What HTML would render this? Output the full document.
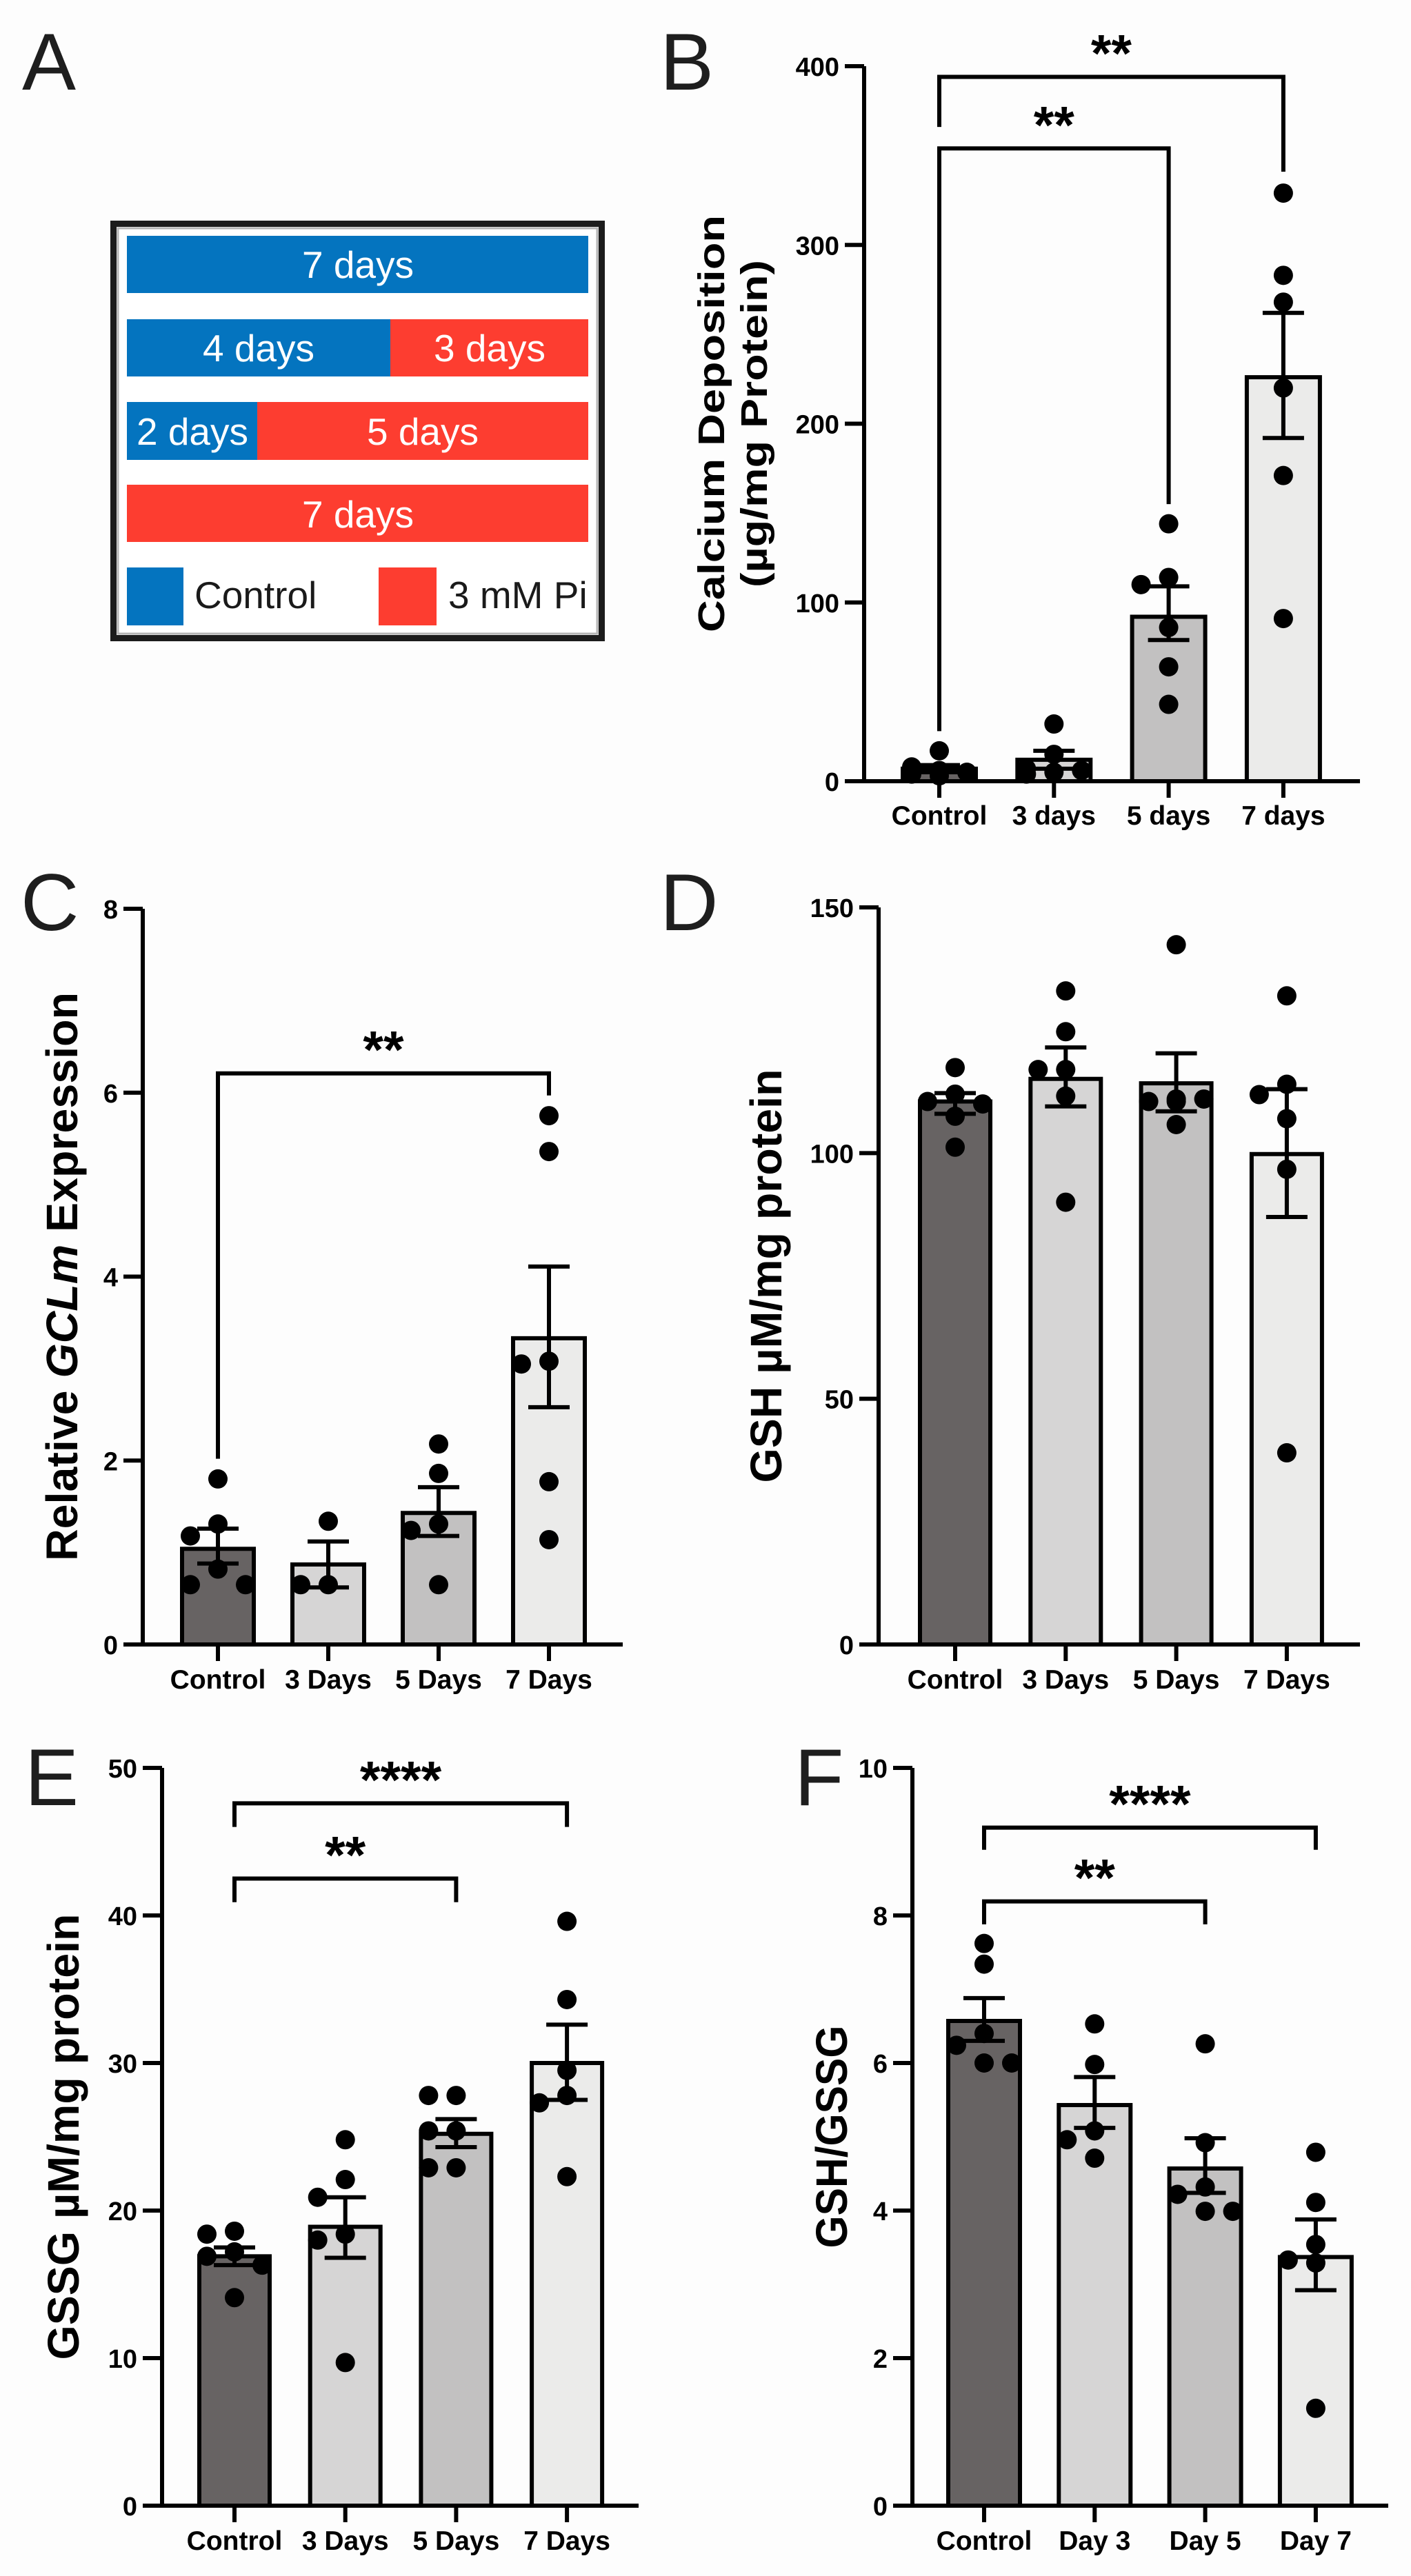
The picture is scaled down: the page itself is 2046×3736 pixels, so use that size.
<!DOCTYPE html>
<html><head><meta charset="utf-8"><style>
html,body{margin:0;padding:0;background:#fdfdfd;}
svg{display:block;font-family:"Liberation Sans",Arial,sans-serif;}
</style></head><body>
<svg id="chart" width="2046" height="3736" viewBox="0 0 2046 3736" xmlns="http://www.w3.org/2000/svg">
<rect x="0" y="0" width="2046" height="3736" fill="#fdfdfd"/>
<g>
  <rect x="164.5" y="324.5" width="708" height="601" fill="#fff" stroke="#1c1c1c" stroke-width="9"/>
  <rect x="171" y="331" width="695" height="588" fill="none" stroke="#b5b5b5" stroke-width="3"/>
  <rect x="184" y="342" width="669" height="83" fill="#0474bf"/>
  <text x="519" y="403" font-size="55" fill="#fff" text-anchor="middle">7 days</text>
  <rect x="184" y="463" width="382" height="83" fill="#0474bf"/>
  <rect x="566" y="463" width="287" height="83" fill="#fd3d30"/>
  <text x="375" y="524" font-size="55" fill="#fff" text-anchor="middle">4 days</text>
  <text x="710" y="524" font-size="55" fill="#fff" text-anchor="middle">3 days</text>
  <rect x="184" y="583" width="189" height="84" fill="#0474bf"/>
  <rect x="373" y="583" width="480" height="84" fill="#fd3d30"/>
  <text x="279" y="645" font-size="55" fill="#fff" text-anchor="middle">2 days</text>
  <text x="613" y="645" font-size="55" fill="#fff" text-anchor="middle">5 days</text>
  <rect x="184" y="703" width="669" height="83" fill="#fd3d30"/>
  <text x="519" y="765" font-size="55" fill="#fff" text-anchor="middle">7 days</text>
  <rect x="184" y="823" width="82" height="84" fill="#0474bf"/>
  <text x="282" y="882" font-size="55" fill="#1a1a1a">Control</text>
  <rect x="549" y="823" width="84" height="84" fill="#fd3d30"/>
  <text x="650" y="882" font-size="55" fill="#1a1a1a">3 mM Pi</text>
</g>
<g font-size="117" fill="#1e1e1e">
  <text x="32" y="130">A</text>
  <text x="957" y="130">B</text>
  <text x="30" y="1349">C</text>
  <text x="957" y="1349">D</text>
  <text x="36" y="2618">E</text>
  <text x="1152" y="2618">F</text>
</g>
</svg>
<script>
// ---- Panel B data ----
const bCategories = ["Control", "3 days", "5 days", "7 days"];
const bMeans = [7, 12, 92, 226];
const bErrHi = [9, 17, 109, 262];
const bErrLo = [5, 7, 79, 192];
const bPoints = [[17, 8, 6, 5, 4, 3], [32, 15, 7, 6, 5, 4], [144, 114, 110, 86, 64, 43], [329, 283, 268, 220, 171, 91]];
const bTicks = [0, 100, 200, 300, 400];
const bBrackets = [
  {from: 0, to: 3, y: 394, leftEnd: 366, rightEnd: 341, label: "**"},
  {from: 0, to: 2, y: 354, leftEnd: 28, rightEnd: 155, label: "**"}
];
// ---- Panel C data ----
const cCategories = ["Control", "3 Days", "5 Days", "7 Days"];
const cMeans = [1.04, 0.87, 1.43, 3.33];
const cErrHi = [1.26, 1.12, 1.71, 4.11];
const cErrLo = [0.88, 0.62, 1.18, 2.58];
const cPoints = [[1.80, 1.31, 1.18, 0.82, 0.65, 0.65], [1.34, 0.65, 0.65], [2.18, 1.86, 1.31, 1.24, 0.65], [5.75, 5.36, 3.08, 3.05, 1.77, 1.14]];
const cTicks = [0, 2, 4, 6, 8];
const cBrackets = [{from: 0, to: 3, y: 6.21, leftEnd: 2.02, rightEnd: 5.97, label: "**"}];
// ---- Panel D data ----
const dCategories = ["Control", "3 Days", "5 Days", "7 Days"];
const dMeans = [110.5, 115.1, 114.2, 99.8];
const dErrHi = [112.2, 121.5, 120.3, 113];
const dErrLo = [108, 109.5, 108.5, 87];
const dPoints = [[117.4, 112, 110.5, 110, 107.5, 101.2], [133, 124.7, 117, 117, 111.6, 90], [142.4, 110.5, 110.5, 111, 111, 105.8], [132, 114, 111.9, 107, 96.7, 39]];
const dTicks = [0, 50, 100, 150];
const dBrackets = [];
// ---- Panel E data ----
const eCategories = ["Control", "3 Days", "5 Days", "7 Days"];
const eMeans = [16.9, 18.9, 25.2, 30.0];
const eErrHi = [17.5, 20.9, 26.2, 32.6];
const eErrLo = [16.3, 16.8, 24.3, 27.5];
const ePoints = [[18.6, 18.4, 17.2, 16.9, 16.3, 14.1], [24.8, 22.1, 20.9, 18.4, 18.0, 9.7], [27.8, 27.8, 25.4, 25.4, 22.9, 22.9], [39.6, 34.3, 29.5, 27.8, 27.3, 22.3]];
const eTicks = [0, 10, 20, 30, 40, 50];
const eBrackets = [
  {from: 0, to: 3, y: 47.6, leftEnd: 46.0, rightEnd: 46.0, label: "****"},
  {from: 0, to: 2, y: 42.5, leftEnd: 40.9, rightEnd: 40.9, label: "**"}
];
// ---- Panel F data ----
const fCategories = ["Control", "Day 3", "Day 5", "Day 7"];
const fMeans = [6.57, 5.43, 4.57, 3.37];
const fErrHi = [6.88, 5.81, 4.98, 3.88];
const fErrLo = [6.30, 5.12, 4.24, 2.92];
const fPoints = [[7.62, 7.34, 6.40, 6.24, 6.0, 6.0], [6.53, 5.98, 5.08, 4.96, 4.71], [6.26, 4.92, 4.32, 4.22, 3.99, 3.99], [4.79, 4.11, 3.54, 3.33, 3.29, 1.32]];
const fTicks = [0, 2, 4, 6, 8, 10];
const fBrackets = [
  {from: 0, to: 3, y: 9.19, leftEnd: 8.89, rightEnd: 8.89, label: "****"},
  {from: 0, to: 2, y: 8.19, leftEnd: 7.88, rightEnd: 7.88, label: "**"}
];

const barFills = ["#676363", "#d6d5d5", "#c2c1c1", "#ebebea"];
const NS = "http://www.w3.org/2000/svg";
const svg = document.getElementById("chart");
function mk(tag, attrs, parent) {
  const e = document.createElementNS(NS, tag);
  for (const k in attrs) e.setAttribute(k, attrs[k]);
  (parent || svg).appendChild(e);
  return e;
}

function drawPanel(p) {
  const g = mk("g", {});
  
  
  const yMax = p.ticks[p.ticks.length - 1];
  const ys = v => p.yBottom - (v / yMax) * (p.yBottom - p.yTop);
  const xs = i => p.axisX + p.firstOff + i * p.step;
  const LW = 6;
  p.means.forEach((m, i) => {
    const b = mk("rect", {x: xs(i) - p.barW / 2, y: ys(m), width: p.barW, height: p.yBottom - ys(m), fill: barFills[i], stroke: "#000", "stroke-width": LW}, g);
    
    
  });
  const r = 14;
  p.points.forEach((arr, i) => {
    const placed = [];
    arr.forEach(v => {
      const cy = ys(v);
      const slots = [0, -40, 40];
      let best = 0, bestClear = -1;
      for (const s of slots) {
        const clear = placed.length ? Math.min(...placed.map(q => Math.hypot(q[0] - s, q[1] - cy))) : 999;
        if (clear >= 2 * r - 2) { best = s; bestClear = 999; break; }
        if (clear > bestClear) { bestClear = clear; best = s; }
      }
      placed.push([best, cy]);
      const c = mk("circle", {cx: xs(i) + best, cy: cy, r: r, fill: "#000"}, g);
      
      
    });
  });
  p.means.forEach((m, i) => {
    const x = xs(i), hi = ys(p.errHi[i]), lo = ys(p.errLo[i]);
    const eg = mk("g", {stroke: "#000", "stroke-width": LW}, g);
    
    
    mk("line", {x1: x, y1: hi, x2: x, y2: lo}, eg);
    mk("line", {x1: x - 30, y1: hi, x2: x + 30, y2: hi}, eg);
    mk("line", {x1: x - 30, y1: lo, x2: x + 30, y2: lo}, eg);
  });
  const ax = mk("g", {stroke: "#000", "stroke-width": LW, fill: "none"}, g);
  
  
  mk("line", {x1: p.axisX, y1: p.yTop, x2: p.axisX, y2: p.yBottom}, ax);
  mk("line", {x1: p.axisX - 28, y1: p.yBottom, x2: p.xEnd, y2: p.yBottom}, ax);
  p.ticks.forEach(t => {
    mk("line", {x1: p.axisX - 28, y1: ys(t), x2: p.axisX, y2: ys(t)}, ax);
    const tl = mk("text", {x: p.axisX - 36, y: ys(t) + 14, "font-size": 38, "font-weight": "bold", "text-anchor": "end", fill: "#000"}, g);
    
    
    tl.textContent = String(t);
  });
  p.cats.forEach((c, i) => {
    mk("line", {x1: xs(i), y1: p.yBottom, x2: xs(i), y2: p.yBottom + 24}, ax);
    const cl = mk("text", {x: xs(i), y: p.labelY + 14, "font-size": 39, "font-weight": "bold", "text-anchor": "middle", fill: "#000"}, g);
    
    
    cl.textContent = c;
  });
  p.brackets.forEach(br => {
    const x1 = xs(br.from), x2 = xs(br.to), y = ys(br.y);
    const pl = mk("polyline", {points: `${x1},${ys(br.leftEnd)} ${x1},${y} ${x2},${y} ${x2},${ys(br.rightEnd)}`, fill: "none", stroke: "#000", "stroke-width": LW}, g);
    
    
    const st = mk("text", {x: (x1 + x2) / 2, y: y - 8, "font-size": 76, "font-weight": "bold", "text-anchor": "middle", fill: "#000"}, g);
    
    
    st.textContent = br.label;
  });
  p.titles.forEach(t => {
    const tt = mk("text", {x: 0, y: 0, transform: `translate(${t.x},${(p.yTop + p.yBottom) / 2}) rotate(-90)`, "font-size": t.size, "font-weight": "bold", "text-anchor": "middle", "dominant-baseline": "central", textLength: t.len, lengthAdjust: "spacingAndGlyphs", fill: "#000"}, g);
    
    
    if (t.italic) {
      const a = mk("tspan", {}, tt); a.textContent = t.parts[0];
      const b = mk("tspan", {"font-style": "italic"}, tt); b.textContent = t.parts[1];
      const c = mk("tspan", {}, tt); c.textContent = t.parts[2];
    } else tt.textContent = t.text;
  });
}

drawPanel({name: "panel-b", cats: bCategories, means: bMeans, errHi: bErrHi, errLo: bErrLo, points: bPoints, ticks: bTicks, brackets: bBrackets,
  axisX: 1253, yTop: 96, yBottom: 1133, firstOff: 109, step: 166.3, barW: 106, xEnd: 1972, labelY: 1182,
  titles: [{x: 1032, size: 54, len: 605, text: "Calcium Deposition"}, {x: 1094, size: 54, len: 475, text: "(µg/mg Protein)"}]});
drawPanel({name: "panel-c", cats: cCategories, means: cMeans, errHi: cErrHi, errLo: cErrLo, points: cPoints, ticks: cTicks, brackets: cBrackets,
  axisX: 207, yTop: 1318, yBottom: 2385, firstOff: 109, step: 160, barW: 104, xEnd: 903, labelY: 2435,
  titles: [{x: 90, size: 64, len: 825, italic: true, parts: ["Relative ", "GCLm", " Expression"]}]});
drawPanel({name: "panel-d", cats: dCategories, means: dMeans, errHi: dErrHi, errLo: dErrLo, points: dPoints, ticks: dTicks, brackets: dBrackets,
  axisX: 1274, yTop: 1316, yBottom: 2385, firstOff: 111, step: 160.3, barW: 102, xEnd: 1972, labelY: 2435,
  titles: [{x: 1111, size: 64, len: 600, text: "GSH µM/mg protein"}]});
drawPanel({name: "panel-e", cats: eCategories, means: eMeans, errHi: eErrHi, errLo: eErrLo, points: ePoints, ticks: eTicks, brackets: eBrackets,
  axisX: 235, yTop: 2564, yBottom: 3634, firstOff: 105, step: 160.7, barW: 102, xEnd: 926, labelY: 3684,
  titles: [{x: 92, size: 64, len: 647, text: "GSSG µM/mg protein"}]});
drawPanel({name: "panel-f", cats: fCategories, means: fMeans, errHi: fErrHi, errLo: fErrLo, points: fPoints, ticks: fTicks, brackets: fBrackets,
  axisX: 1323, yTop: 2564, yBottom: 3634, firstOff: 104, step: 160.3, barW: 104, xEnd: 2013, labelY: 3684,
  titles: [{x: 1206, size: 64, len: 323, text: "GSH/GSSG"}]});
</script>
</body></html>
